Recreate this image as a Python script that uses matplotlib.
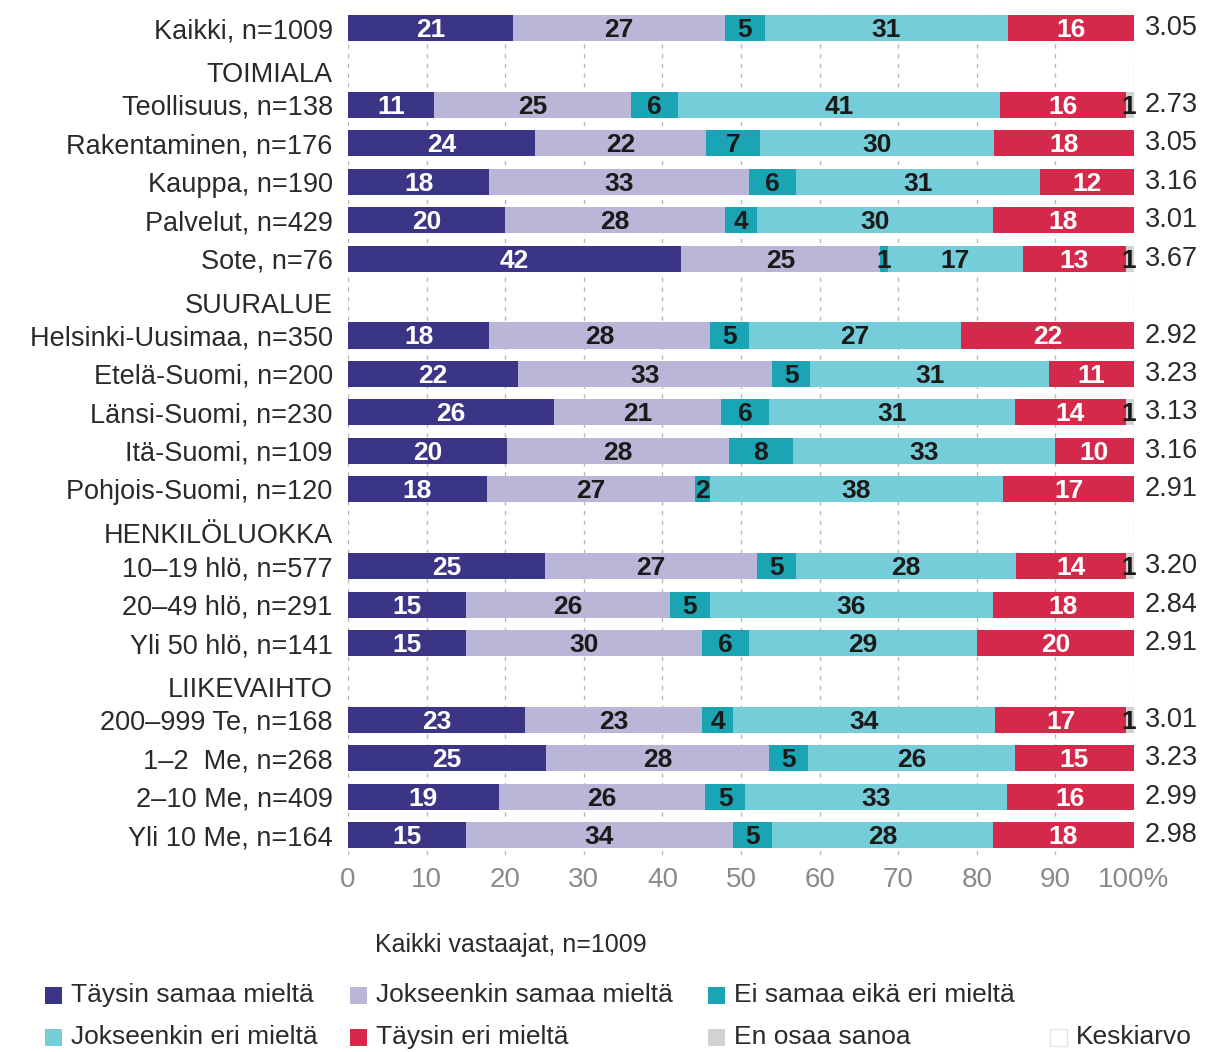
import matplotlib
matplotlib.use("Agg")
import matplotlib.pyplot as plt
from matplotlib.patches import Rectangle
from matplotlib import font_manager
import numpy as np

# ---------------- data ----------------
row_labels = ["Kaikki, n=1009",
              "Teollisuus, n=138", "Rakentaminen, n=176", "Kauppa, n=190",
              "Palvelut, n=429", "Sote, n=76",
              "Helsinki-Uusimaa, n=350", "Etelä-Suomi, n=200", "Länsi-Suomi, n=230",
              "Itä-Suomi, n=109", "Pohjois-Suomi, n=120",
              "10–19 hlö, n=577", "20–49 hlö, n=291", "Yli 50 hlö, n=141",
              "200–999 Te, n=168", "1–2  Me, n=268", "2–10 Me, n=409", "Yli 10 Me, n=164"]
# slot index of each row (header rows occupy their own slots)
row_slots = [0, 2, 3, 4, 5, 6, 8, 9, 10, 11, 12, 14, 15, 16, 18, 19, 20, 21]
header_labels = ["TOIMIALA", "SUURALUE", "HENKILÖLUOKKA", "LIIKEVAIHTO"]
header_slots = [1, 7, 13, 17]

series_names = ["Täysin samaa mieltä", "Jokseenkin samaa mieltä", "Ei samaa eikä eri mieltä",
                "Jokseenkin eri mieltä", "Täysin eri mieltä", "En osaa sanoa"]
taysin_samaa = [21, 11, 24, 18, 20, 42, 18, 22, 26, 20, 18, 25, 15, 15, 23, 25, 19, 15]
jokseenkin_samaa = [27, 25, 22, 33, 28, 25, 28, 33, 21, 28, 27, 27, 26, 30, 23, 28, 26, 34]
ei_samaa_eika_eri = [5, 6, 7, 6, 4, 1, 5, 5, 6, 8, 2, 5, 5, 6, 4, 5, 5, 5]
jokseenkin_eri = [31, 41, 30, 31, 30, 17, 27, 31, 31, 33, 38, 28, 36, 29, 34, 26, 33, 28]
taysin_eri = [16, 16, 18, 12, 18, 13, 22, 11, 14, 10, 17, 14, 18, 20, 17, 15, 16, 18]
en_osaa = [0, 1, 0, 0, 0, 1, 0, 0, 1, 0, 0, 1, 0, 0, 1, 0, 0, 0]
keskiarvo = ["3.05", "2.73", "3.05", "3.16", "3.01", "3.67", "2.92", "3.23", "3.13",
             "3.16", "2.91", "3.20", "2.84", "2.91", "3.01", "3.23", "2.99", "2.98"]
x_ticks = [0, 10, 20, 30, 40, 50, 60, 70, 80, 90, 100]
x_ticklabels = ["0", "10", "20", "30", "40", "50", "60", "70", "80", "90", "100%"]

colors = ["#3a3584", "#bab6d7", "#1ba4b4", "#74cdd8", "#d4294b", "#d2d2d2"]
text_colors = ["white", "#1a1a1a", "#1a1a1a", "#1a1a1a", "white", "#1a1a1a"]

# ---------------- fonts ----------------
avail = {f.name for f in font_manager.fontManager.ttflist}
base_font = "Liberation Sans" if "Liberation Sans" in avail else "DejaVu Sans"
narrow_font = "Liberation Sans Narrow" if "Liberation Sans Narrow" in avail else base_font
plt.rcParams["font.family"] = [base_font, "DejaVu Sans"]

# ---------------- figure ----------------
W, H = 1221, 1052
fig = plt.figure(figsize=(W / 100, H / 100), dpi=100)
ax = fig.add_axes([348 / W, 1 - 854.5 / H, (1134 - 348) / W, (854.5 - 8.8) / H])

data = np.array([taysin_samaa, jokseenkin_samaa, ei_samaa_eika_eri,
                 jokseenkin_eri, taysin_eri, en_osaa], dtype=float)
totals = data.sum(axis=0)
widths = data / totals * 100.0
slots = np.array(row_slots, dtype=float)

left = np.zeros(len(row_labels))
for i in range(len(series_names)):
    ax.barh(slots, widths[i], left=left, height=0.68, color=colors[i],
            edgecolor="none", zorder=2, label=series_names[i])
    for r in range(len(row_labels)):
        v = data[i, r]
        if v <= 0:
            continue
        cx = left[r] + widths[i, r] / 2
        ha = "center"
        if i == 5:
            cx = left[r] + widths[i, r] + 0.2
            ha = "right"
        ax.text(cx, slots[r] + 0.05, f"{int(v)}", ha=ha, va="center",
                color=text_colors[i], fontsize=19, fontweight="bold",
                family=[base_font, "DejaVu Sans"], zorder=4)
    left = left + widths[i]

# keskiarvo values
for r in range(len(row_labels)):
    ax.annotate(keskiarvo[r], xy=(100, slots[r]), xytext=(8, 0),
                textcoords="offset points", ha="left", va="center",
                fontsize=19.5, color="#2a2a2a", annotation_clip=False)

# headers
for lab, s in zip(header_labels, header_slots):
    ax.annotate(lab, xy=(0, s + 0.22), xytext=(-11, 0), textcoords="offset points",
                ha="right", va="center", fontsize=19.5, color="#2a2a2a",
                annotation_clip=False)

ax.set_yticks(slots)
ax.set_yticklabels(row_labels, fontsize=19.5, color="#2a2a2a")
ax.tick_params(axis="y", length=0, pad=11)
ax.set_xticks(x_ticks)
ax.set_xticklabels(x_ticklabels, fontsize=20, color="#8a8a8a", family=narrow_font)
ax.tick_params(axis="x", length=0, pad=9)
ax.set_xlim(0, 100)
ax.set_ylim(21.5, -0.5)
for sp in ax.spines.values():
    sp.set_visible(False)
ax.grid(axis="x", color="#b8b8b8", linestyle=(0, (3, 4)), linewidth=1.0, zorder=0)
ax.set_axisbelow(True)

# ---------------- legend (manual) ----------------
fig.text(375 / W, 1 - 945 / H, "Kaikki vastaajat, n=1009", fontsize=18,
         color="#2a2a2a", family=narrow_font, va="center", ha="left")

leg_items = [(series_names[0], colors[0], 45, 995), (series_names[1], colors[1], 350, 995),
             (series_names[2], colors[2], 708, 995), (series_names[3], colors[3], 45, 1037),
             (series_names[4], colors[4], 350, 1037), (series_names[5], colors[5], 708, 1037),
             ("Keskiarvo", "white", 1050, 1037)]
for name, col, px, py in leg_items:
    sq = 17
    ec = "#e6e6e6" if col == "white" else "none"
    fig.patches.append(Rectangle((px / W, 1 - (py + sq / 2) / H), sq / W, sq / H,
                                 transform=fig.transFigure, facecolor=col,
                                 edgecolor=ec, linewidth=1))
    fig.text((px + sq + 9) / W, 1 - py / H, name, fontsize=19, color="#2a2a2a",
             family=narrow_font, va="center", ha="left")

fig.savefig("out.png", dpi=100, facecolor="white")
